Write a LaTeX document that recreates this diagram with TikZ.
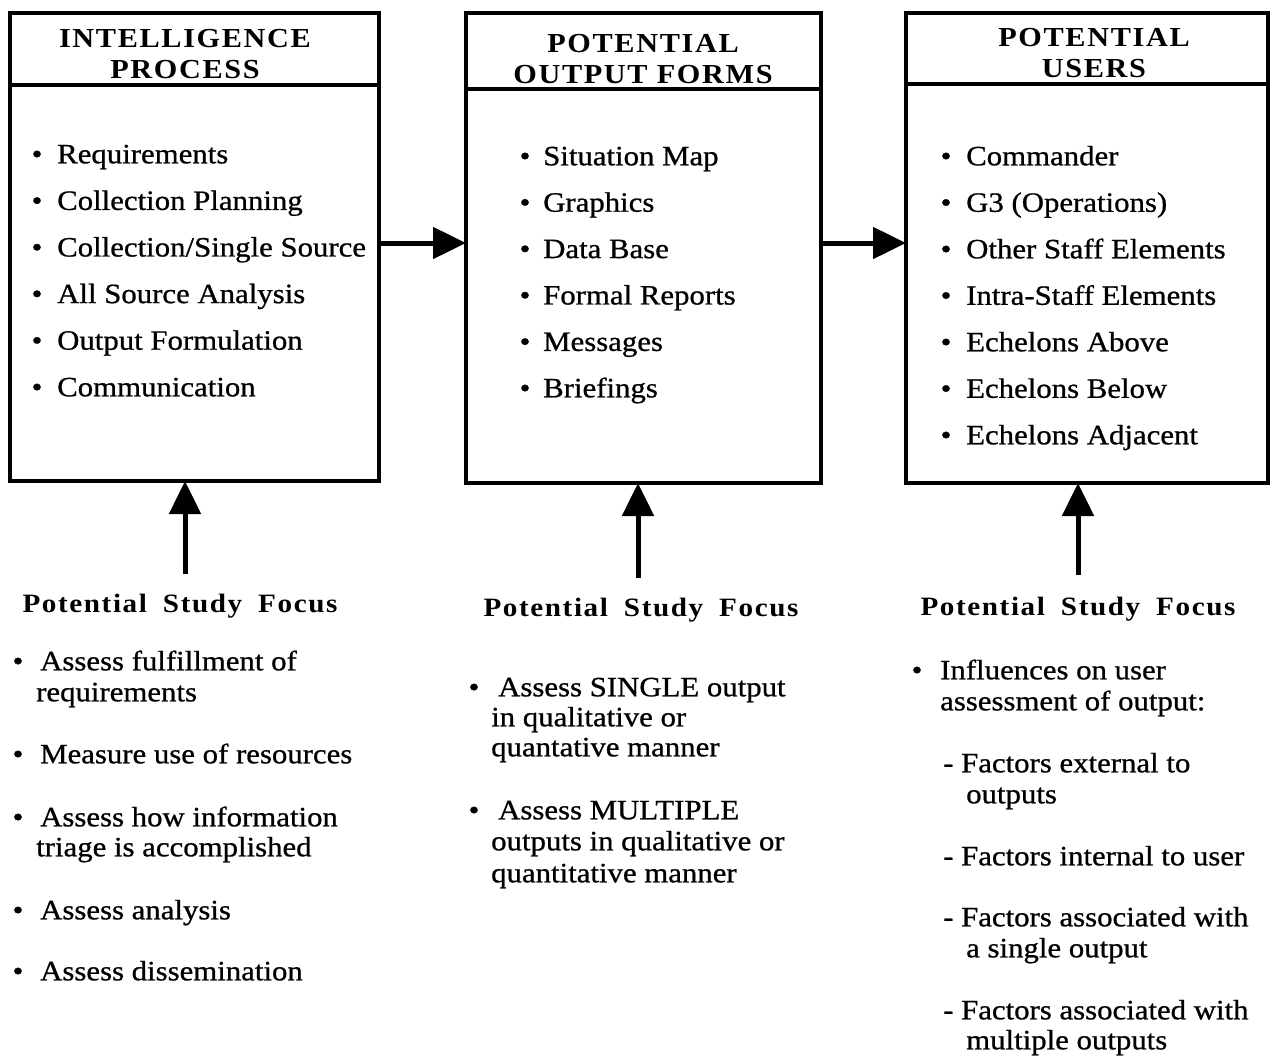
\documentclass[tikz,border=0pt]{standalone}
\usepackage{fontspec}
\setmainfont{Liberation Serif}[FakeStretch=1.1,FakeBold=0.8]
\newfontfamily\spaced{Liberation Serif}[LetterSpace=6,FakeStretch=1.1]
\usetikzlibrary{arrows.meta}
\begin{document}
\begin{tikzpicture}[x=1pt,y=-1pt,
  box/.style={draw, line width=4pt, inner sep=0pt, outer sep=0pt},
  hdr/.style={font=\spaced\bfseries\fontsize{27.5}{31}\selectfont, align=center, inner sep=0pt},
  itm/.style={font=\fontsize{28}{31}\selectfont, anchor=mid west, inner sep=0pt, yshift=-7pt},
  dot/.style={font=\fontsize{28}{31}\selectfont, anchor=mid, inner sep=0pt, yshift=-7pt},
  focus/.style={font=\spaced\bfseries\fontsize{26.5}{30}\selectfont, anchor=base, inner sep=0pt},
  arr/.style={line width=5pt, -{Triangle[length=33pt,width=31pt]}}
]
\useasboundingbox (0,0) rectangle (1273,1057);

% boxes
\node[box, minimum width=369pt, minimum height=468pt] (b1) at (194.5,247) {};
\node[box, minimum width=355pt, minimum height=470pt] (b2) at (643.5,248) {};
\node[box, minimum width=362pt, minimum height=470pt] (b3) at (1087,248) {};
\draw[line width=4pt] (b1.west |- 0,85) -- (b1.east |- 0,85);
\draw[line width=4pt] (b2.west |- 0,89) -- (b2.east |- 0,89);
\draw[line width=4pt] (b3.west |- 0,84) -- (b3.east |- 0,84);

% headers
\node[hdr] (h1) at (185,54) {INTELLIGENCE\\PROCESS};
\node[hdr] (h2) at (643,59) {POTENTIAL\\OUTPUT FORMS};
\node[hdr] (h3) at (1094,53.5) {POTENTIAL\\USERS};

% box items
\foreach \t [count=\i] in {Requirements, Collection Planning, Collection/Single Source, All Source Analysis, Output Formulation, Communication}{
  \node[dot] (p1d\i) at (37,{154+(\i-1)*46.6}) {\textbullet};
  \node[itm] (p1t\i) at (57,{154+(\i-1)*46.6}) {\t};
}
\foreach \t [count=\i] in {Situation Map, Graphics, Data Base, Formal Reports, Messages, Briefings}{
  \node[dot] (p2d\i) at (525,{156+(\i-1)*46.4}) {\textbullet};
  \node[itm] (p2t\i) at (543,{156+(\i-1)*46.4}) {\t};
}
\foreach \t [count=\i] in {Commander, G3 (Operations), Other Staff Elements, Intra-Staff Elements, Echelons Above, Echelons Below, Echelons Adjacent}{
  \node[dot] (p3d\i) at (946,{156+(\i-1)*46.5}) {\textbullet};
  \node[itm] (p3t\i) at (966,{156+(\i-1)*46.5}) {\t};
}

% arrows between boxes
\draw[arr] (b1.east |- 0,243) -- (b2.west |- 0,243);
\draw[arr] (b2.east |- 0,243) -- (b3.west |- 0,243);

% focus labels
\node[focus] (f1) at (180,612) {Potential\hspace{16pt}Study\hspace{16pt}Focus};
\node[focus] (f2) at (641,616) {Potential\hspace{16pt}Study\hspace{16pt}Focus};
\node[focus] (f3) at (1078,615) {Potential\hspace{16pt}Study\hspace{16pt}Focus};

% vertical arrows
\coordinate (a1) at (185,574);
\coordinate (a2) at (638,578);
\coordinate (a3) at (1078,575);
\draw[arr] (a1) -- (a1 |- b1.south);
\draw[arr] (a2) -- (a2 |- b2.south);
\draw[arr] (a3) -- (a3 |- b3.south);

% column 1 study focus
\node[dot] (q1d1) at (18,661) {\textbullet};
\node[itm] (q1a) at (40,661) {Assess fulfillment of};
\node[itm] (q1b) at (36,692) {requirements};
\node[dot] (q1d2) at (18,754) {\textbullet};
\node[itm] (q1c) at (40,754) {Measure use of resources};
\node[dot] (q1d3) at (18,817) {\textbullet};
\node[itm] (q1d) at (40,817) {Assess how information};
\node[itm] (q1e) at (36,847) {triage is accomplished};
\node[dot] (q1d4) at (18,910) {\textbullet};
\node[itm] (q1f) at (40,910) {Assess analysis};
\node[dot] (q1d5) at (18,971) {\textbullet};
\node[itm] (q1g) at (40,971) {Assess dissemination};

% column 2 study focus
\node[dot] (q2d1) at (474,687) {\textbullet};
\node[itm] (q2a) at (498,687) {Assess SINGLE output};
\node[itm] (q2b) at (491,717) {in qualitative or};
\node[itm] (q2c) at (491,747) {quantative manner};
\node[dot] (q2d2) at (474,810) {\textbullet};
\node[itm] (q2d) at (498,810) {Assess MULTIPLE};
\node[itm] (q2e) at (491,841) {outputs in qualitative or};
\node[itm] (q2f) at (491,873) {quantitative manner};

% column 3 study focus
\node[dot] (q3d1) at (917,670) {\textbullet};
\node[itm] (q3a) at (940,670) {Influences on user};
\node[itm] (q3b) at (940,701) {assessment of output:};
\node[itm] (q3c) at (943,763) {- Factors external to};
\node[itm] (q3d) at (966,794) {outputs};
\node[itm] (q3e) at (943,856) {- Factors internal to user};
\node[itm] (q3f) at (943,917) {- Factors associated with};
\node[itm] (q3g) at (966,948) {a single output};
\node[itm] (q3h) at (943,1010) {- Factors associated with};
\node[itm] (q3i) at (966,1040) {multiple outputs};
\end{tikzpicture}
\end{document}
